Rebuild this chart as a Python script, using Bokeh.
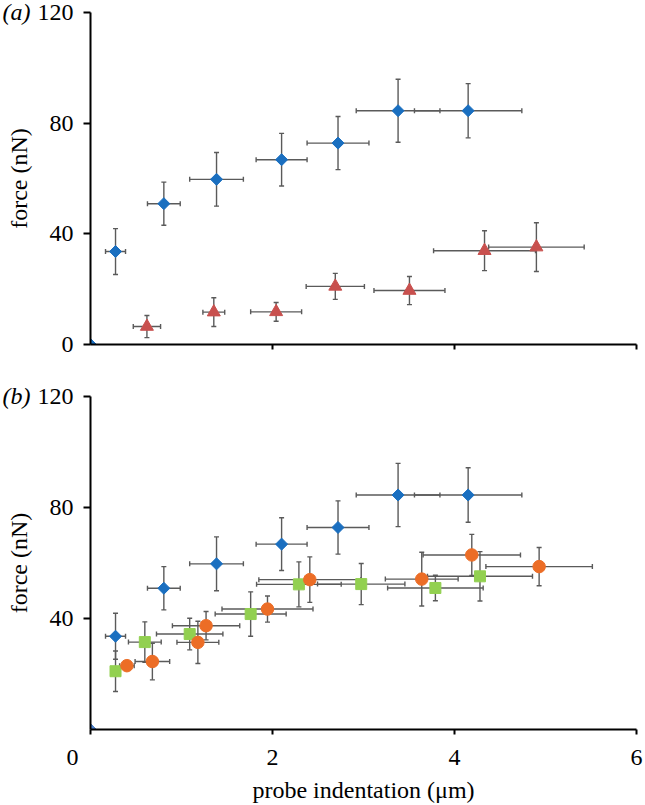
import numpy as np
from bokeh.plotting import figure
from bokeh.models import ColumnDataSource, Whisker, TeeHead, Range1d, FixedTicker
from bokeh.layouts import column
from bokeh.embed import file_html
from bokeh.resources import INLINE

# ---- data (probe indentation in um, force in nN) ----
blue_x = [0.275, 0.806, 1.385, 2.10, 2.72, 3.38, 4.15]
blue_y = [33.6, 50.9, 59.7, 66.8, 72.8, 84.5, 84.5]
blue_xerr = [0.11, 0.18, 0.295, 0.28, 0.34, 0.46, 0.59]
blue_yerr = [8.3, 7.8, 9.7, 9.5, 9.6, 11.4, 9.8]

red_x = [0.62, 1.355, 2.04, 2.69, 3.505, 4.33, 4.90]
red_y = [6.5, 11.7, 11.8, 21.0, 19.5, 33.9, 35.2]
red_xerr = [0.15, 0.12, 0.28, 0.32, 0.39, 0.56, 0.525]
red_yerr = [4.0, 5.2, 3.4, 4.7, 5.1, 7.2, 8.8]

green_x = [0.275, 0.597, 1.09, 1.76, 2.29, 2.975, 3.79, 4.28]
green_y = [21.0, 31.5, 34.4, 41.6, 52.3, 52.4, 51.0, 55.2]
green_xerr = [0.05, 0.18, 0.365, 0.39, 0.465, 0.48, 0.525, 0.577]
green_yerr = [7.3, 7.3, 5.7, 8.0, 8.1, 7.4, 4.6, 8.9]

orange_x = [0.40, 0.68, 1.18, 1.27, 1.945, 2.41, 3.64, 4.19, 4.93]
orange_y = [23.0, 24.5, 31.4, 37.4, 43.4, 54.0, 54.2, 62.9, 58.7]
orange_xerr = [0.08, 0.19, 0.23, 0.37, 0.50, 0.56, 0.40, 0.535, 0.585]
orange_yerr = [1.5, 6.6, 7.6, 5.1, 4.7, 8.2, 9.7, 7.4, 6.9]

origin_x = [0.0]
origin_y = [0.0]

y_ticks_top = [0, 40, 80, 120]
y_ticks_bottom = [40, 80, 120]
x_ticks_top = [2, 4, 6]
x_ticks_bottom = [0, 2, 4, 6]

FONT = "Liberation Serif"
FS = "24px"
BLUE = "#1a6fc0"
RED = "#c8504e"
GREEN = "#92d050"
ORANGE = "#ec6d26"
ERR = "#5a5a5a"
LEFT = 90


def add_errorbars(p, x, y, xerr, yerr):
    src = ColumnDataSource(dict(
        x=x, y=y,
        xl=[a - b for a, b in zip(x, xerr)], xu=[a + b for a, b in zip(x, xerr)],
        yl=[a - b for a, b in zip(y, yerr)], yu=[a + b for a, b in zip(y, yerr)],
    ))
    for dim, base, lo, up in (("width", "y", "xl", "xu"), ("height", "x", "yl", "yu")):
        w = Whisker(source=src, base=base, lower=lo, upper=up, dimension=dim,
                    line_color=ERR, line_width=1.4, level="underlay",
                    lower_head=TeeHead(size=5, line_color=ERR, line_width=1.4),
                    upper_head=TeeHead(size=5, line_color=ERR, line_width=1.4))
        p.add_layout(w)


def style(p, yticks, xticks, show_xlabels, tag):
    p.xgrid.visible = False
    p.ygrid.visible = False
    p.outline_line_color = None
    p.background_fill_color = "white"
    for ax in (p.xaxis[0], p.yaxis[0]):
        ax.axis_line_width = 2
        ax.axis_line_color = "black"
        ax.major_tick_line_width = 2
        ax.major_tick_line_color = "black"
        ax.major_tick_in = 0
        ax.minor_tick_line_color = None
        ax.major_label_text_font = FONT
        ax.major_label_text_font_size = FS
        ax.major_label_text_color = "black"
        ax.axis_label_text_font = FONT
        ax.axis_label_text_font_size = FS
        ax.axis_label_text_font_style = "normal"
        ax.axis_label_text_color = "black"
    p.yaxis.ticker = FixedTicker(ticks=yticks)
    p.yaxis.major_tick_out = 7
    p.yaxis.major_label_standoff = 10
    p.yaxis.axis_label_standoff = 3
    p.yaxis.axis_label = "force (nN)"
    p.xaxis.ticker = FixedTicker(ticks=xticks)
    p.xaxis.major_tick_out = 5
    if show_xlabels:
        p.xaxis.major_label_standoff = 9
        p.xaxis.axis_label = "probe indentation (μm)"
        p.xaxis.axis_label_standoff = 4
        # the "0" label sits left of the origin in the original
        p.xaxis.major_label_overrides = {0: "0" + "\u00a0" * 6}
    else:
        p.xaxis.major_label_overrides = {t: "" for t in xticks}
        p.xaxis.major_label_standoff = 0
    # panel tag, e.g. "(a)", drawn as the figure title to the left of the axis
    p.title.text = tag
    p.title.align = "left"
    p.title.offset = -88
    p.title.standoff = -24
    p.title.vertical_align = "bottom"
    p.title.text_font = FONT
    p.title.text_font_size = FS
    p.title.text_font_style = "italic"
    p.title.text_color = "black"


# ---- top panel (a) ----
p1 = figure(width=645, height=384, output_backend="svg", toolbar_location=None,
            x_range=Range1d(0, 6), y_range=Range1d(0, 120),
            min_border_left=LEFT, min_border_right=9, min_border_top=12, min_border_bottom=40)
style(p1, y_ticks_top, x_ticks_top, False, "(a)")
add_errorbars(p1, blue_x, blue_y, blue_xerr, blue_yerr)
add_errorbars(p1, red_x, red_y, red_xerr, red_yerr)
p1.scatter(blue_x, blue_y, marker="square", angle=np.pi / 4, size=8.5,
           fill_color=BLUE, line_color=BLUE)
p1.scatter(red_x, red_y, marker="triangle", size=13, fill_color=RED, line_color=RED)
p1.scatter(origin_x, origin_y, marker="square", angle=np.pi / 4, size=8.5,
           fill_color=BLUE, line_color=BLUE)

# ---- bottom panel (b) ----
p2 = figure(width=645, height=421, output_backend="svg", toolbar_location=None,
            x_range=Range1d(0, 6), y_range=Range1d(0, 120),
            min_border_left=LEFT, min_border_right=9, min_border_top=12, min_border_bottom=75)
style(p2, y_ticks_bottom, x_ticks_bottom, True, "(b)")
add_errorbars(p2, blue_x, blue_y, blue_xerr, blue_yerr)
add_errorbars(p2, green_x, green_y, green_xerr, green_yerr)
add_errorbars(p2, orange_x, orange_y, orange_xerr, orange_yerr)
p2.scatter(blue_x, blue_y, marker="square", angle=np.pi / 4, size=8.5,
           fill_color=BLUE, line_color=BLUE)
p2.scatter(green_x, green_y, marker="square", size=11, fill_color=GREEN, line_color=GREEN)
p2.scatter(orange_x, orange_y, marker="circle", size=12.5, fill_color=ORANGE, line_color=ORANGE)
p2.scatter(origin_x, origin_y, marker="square", angle=np.pi / 4, size=8.5,
           fill_color="#4f81c8", line_color="#4f81c8")

layout = column(p1, p2, spacing=0)
open("out.html", "w").write(file_html(layout, INLINE))
